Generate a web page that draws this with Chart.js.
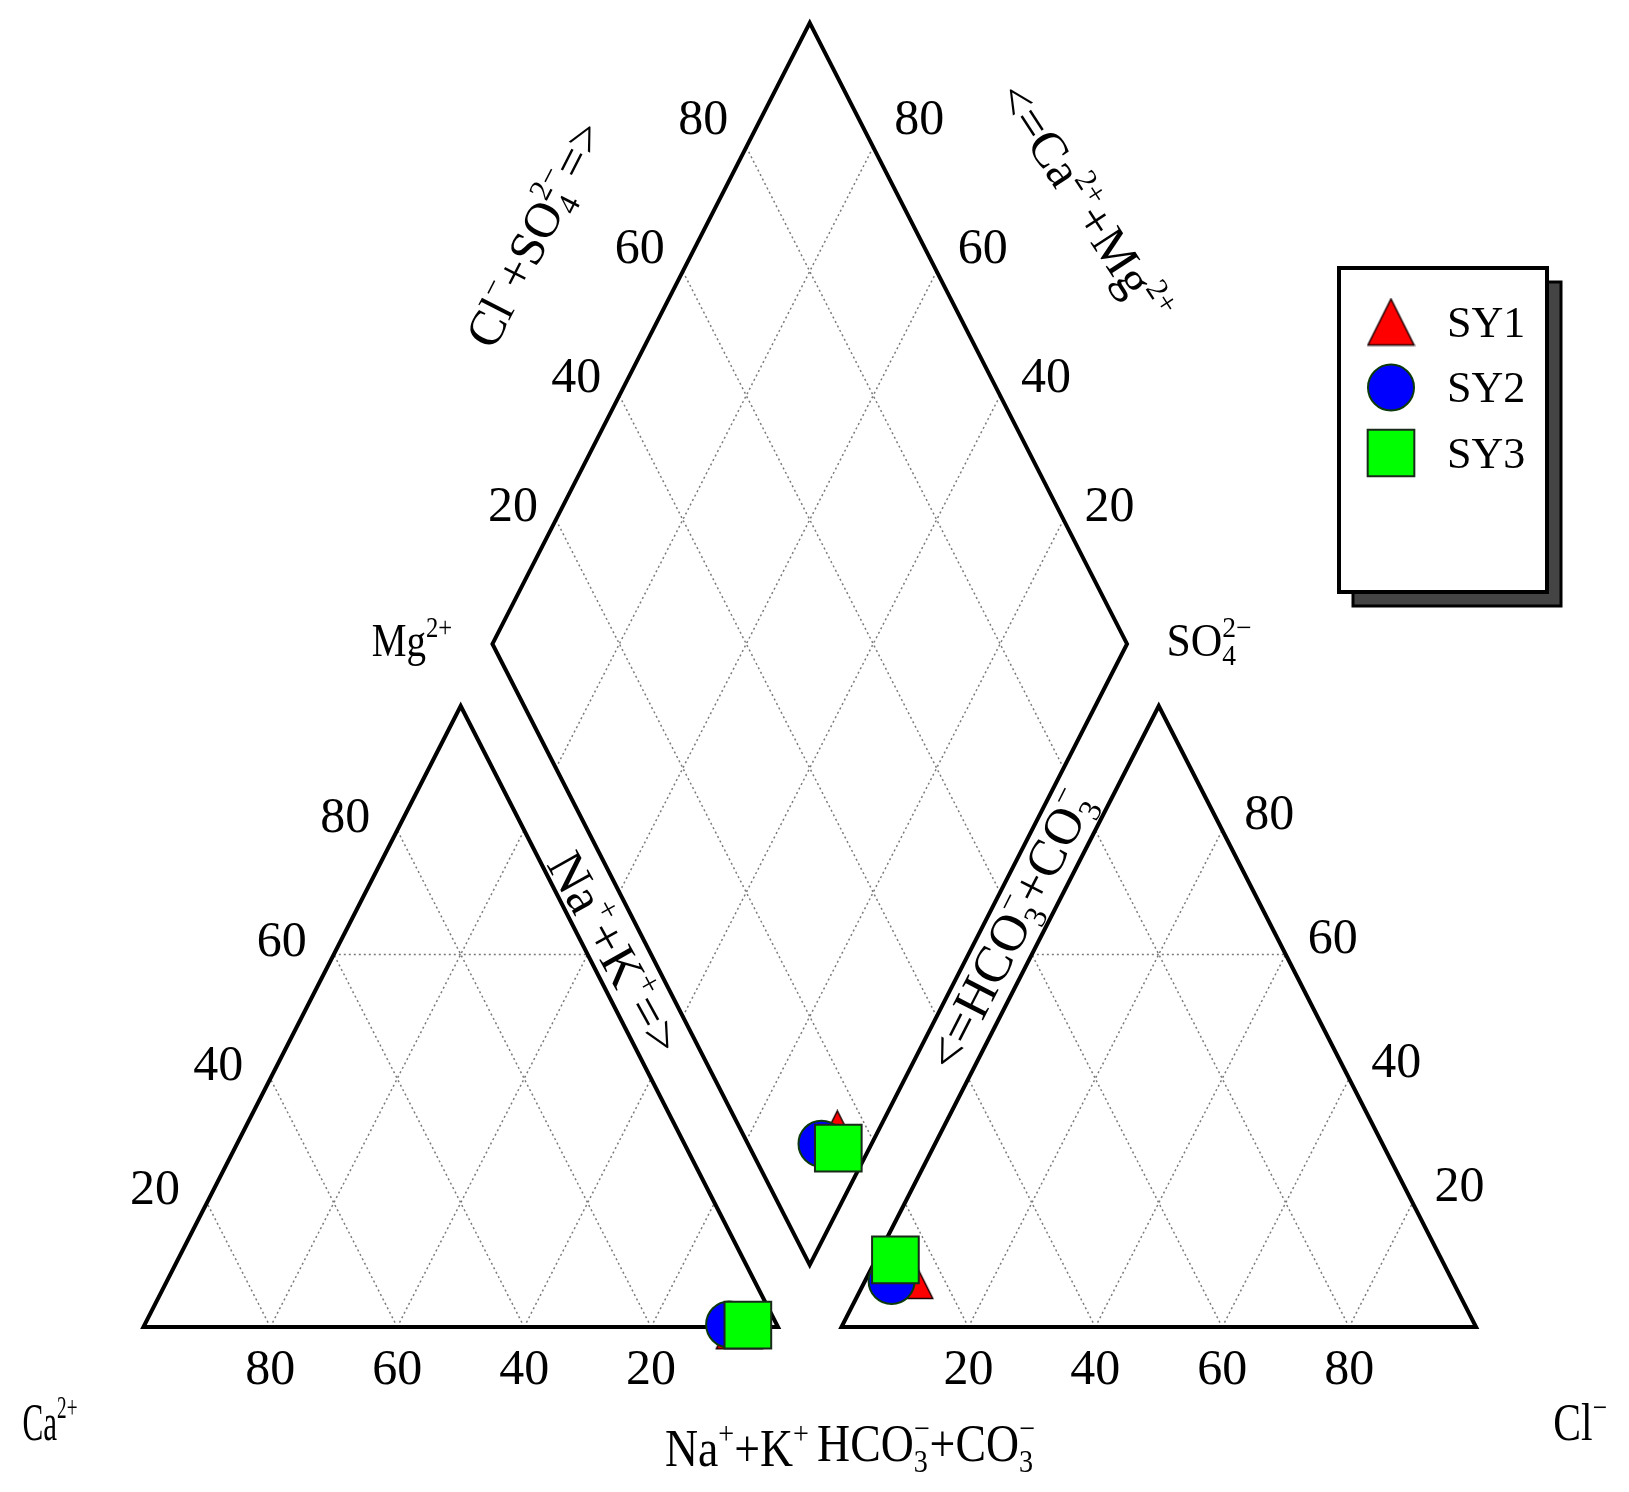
<!DOCTYPE html>
<html>
<head>
<meta charset="utf-8">
<title>Piper diagram</title>
<script src="https://cdn.jsdelivr.net/npm/chart.js@4.4.1/dist/chart.umd.min.js"></script>
<style>
  html, body { margin: 0; padding: 0; background: #fff; }
  #wrap { width: 1629px; height: 1492px; }
</style>
</head>
<body>
<div id="wrap"><canvas id="piper" width="1629" height="1492"></canvas></div>
<script>
// sample compositions in meq %
const samples = ['SY1', 'SY2', 'SY3'];
const ca   = [6.0, 7.5, 4.6];
const mg   = [0.2, 0.4, 0.3];
const naK  = [93.8, 92.1, 95.1];
const hco3 = [85.1, 88.4, 86.1];
const so4  = [8.3, 7.4, 10.8];
const cl   = [6.6, 4.2, 3.1];

// grid / tick values
const ticks = [20, 40, 60, 80];
const levelLines = [60];   // only this horizontal line is drawn in the triangles

const gap = 10;            // space between the two triangles (% of side)
const FONT = '"Liberation Serif", "Times New Roman", serif';

// ternary -> chart units (triangle side = 100, height = 100)
function cationXY(c, m, n) { return { x: n + m / 2, y: m }; }
function anionXY(h, s, c) { return { x: 100 + gap + c + s / 2, y: s }; }
function diamondXY(a, b) {   // a = Cl+SO4, b = Ca+Mg
    return { x: 100 + gap / 2 + (a - b) / 2, y: gap + a + b };
}
const BREAK = { x: null, y: null };

// grid lines
const gridLeft = [], gridRight = [], gridDiamond = [];
ticks.forEach(t => {
    gridLeft.push(cationXY(t, 0, 100 - t), cationXY(t, 100 - t, 0), BREAK);
    gridLeft.push(cationXY(100 - t, 0, t), cationXY(0, 100 - t, t), BREAK);
    gridRight.push(anionXY(t, 0, 100 - t), anionXY(t, 100 - t, 0), BREAK);
    gridRight.push(anionXY(100 - t, 0, t), anionXY(0, 100 - t, t), BREAK);
    gridDiamond.push(diamondXY(t, 0), diamondXY(t, 100), BREAK);
    gridDiamond.push(diamondXY(0, t), diamondXY(100, t), BREAK);
});
levelLines.forEach(t => {
    gridLeft.push(cationXY(100 - t, t, 0), cationXY(0, t, 100 - t), BREAK);
    gridRight.push(anionXY(100 - t, t, 0), anionXY(0, t, 100 - t), BREAK);
});

// outlines (first edge repeated so every corner gets a mitred join)
const outlineLeft = [cationXY(100, 0, 0), cationXY(0, 0, 100), cationXY(0, 100, 0),
                     cationXY(100, 0, 0), cationXY(0, 0, 100)];
const outlineRight = [anionXY(100, 0, 0), anionXY(0, 0, 100), anionXY(0, 100, 0),
                      anionXY(100, 0, 0), anionXY(0, 0, 100)];
const outlineDiamond = [diamondXY(0, 0), diamondXY(100, 0), diamondXY(100, 100),
                        diamondXY(0, 100), diamondXY(0, 0), diamondXY(100, 0)];

const gridStyle = {
    showLine: true, spanGaps: false, pointRadius: 0, pointHoverRadius: 0, fill: false,
    borderColor: '#7a7a7a', borderWidth: 1.5, borderDash: [2, 3], order: 20
};
const outlineStyle = {
    showLine: true, spanGaps: false, pointRadius: 0, pointHoverRadius: 0, fill: false,
    borderColor: '#000', borderWidth: 4, borderJoinStyle: 'miter', order: 10
};

// triangle marker centred on its bounding box
function triangleImage(w, h, fill, stroke, lw) {
    const c = document.createElement('canvas');
    c.width = Math.ceil(w + lw * 2);
    c.height = Math.ceil(h + lw * 2);
    const g = c.getContext('2d');
    g.beginPath();
    g.moveTo(c.width / 2, lw);
    g.lineTo(c.width - lw, c.height - lw);
    g.lineTo(lw, c.height - lw);
    g.closePath();
    g.fillStyle = fill;
    g.fill();
    g.lineWidth = lw;
    g.strokeStyle = stroke;
    g.lineJoin = 'miter';
    g.stroke();
    return c;
}

const markerStyle = [
    { pointStyle: triangleImage(46, 46, '#ff0000', '#1a0000', 1.5), pointRadius: 24, backgroundColor: '#ff0000', borderColor: '#1a0000', borderWidth: 1.5 },
    { pointStyle: 'circle', pointRadius: 23, backgroundColor: '#0000ff', borderColor: '#0b3a0b', borderWidth: 2 },
    { pointStyle: 'rect', pointRadius: 33, backgroundColor: '#00ff00', borderColor: '#1a2a1a', borderWidth: 2 }
];

const sampleSets = samples.map((name, i) => Object.assign({
    label: name,
    data: [cationXY(ca[i], mg[i], naK[i]),
           diamondXY(cl[i] + so4[i], ca[i] + mg[i]),
           anionXY(hco3[i], so4[i], cl[i])],
    showLine: false,
    pointHoverRadius: 0,
    order: samples.length - i
}, markerStyle[i]));

// rich text with super/subscripts: strings are normal text, objects {sup, sub}
function partsWidth(ctx, parts, size) {
    let w = 0;
    parts.forEach(p => {
        if (typeof p === 'string') {
            ctx.font = size + 'px ' + FONT;
            w += ctx.measureText(p).width;
        } else {
            ctx.font = Math.round(size * 0.62) + 'px ' + FONT;
            w += Math.max(p.sup ? ctx.measureText(p.sup).width : 0, p.sub ? ctx.measureText(p.sub).width : 0);
        }
    });
    return w;
}

function drawRich(ctx, parts, x, y, o) {
    o = o || {};
    const size = o.size || 50, sx = o.sx || 1, align = o.align || 'center';
    const w = partsWidth(ctx, parts, size);
    ctx.save();
    ctx.translate(x, y);
    if (o.angle) ctx.rotate(o.angle);
    ctx.scale(sx, 1);
    ctx.textAlign = 'left';
    ctx.textBaseline = 'alphabetic';
    let cx = align === 'center' ? -w / 2 : (align === 'right' ? -w : 0);
    const base = size * 0.33;
    parts.forEach(p => {
        if (typeof p === 'string') {
            ctx.font = size + 'px ' + FONT;
            ctx.fillText(p, cx, base);
            cx += ctx.measureText(p).width;
        } else {
            ctx.font = Math.round(size * 0.62) + 'px ' + FONT;
            let adv = 0;
            if (p.sup) { ctx.fillText(p.sup, cx, base - size * 0.42); adv = ctx.measureText(p.sup).width; }
            if (p.sub) { ctx.fillText(p.sub, cx, base + size * 0.2); adv = Math.max(adv, ctx.measureText(p.sub).width); }
            cx += adv;
        }
    });
    ctx.restore();
}

function drawMarker(ctx, st, x, y) {
    const r = st.pointRadius;
    ctx.save();
    if (typeof st.pointStyle === 'object') {
        ctx.drawImage(st.pointStyle, x - st.pointStyle.width / 2, y - st.pointStyle.height / 2);
        ctx.restore();
        return;
    }
    ctx.fillStyle = st.backgroundColor;
    ctx.strokeStyle = st.borderColor;
    ctx.lineWidth = st.borderWidth;
    ctx.beginPath();
    if (st.pointStyle === 'circle') {
        ctx.arc(x, y, r, 0, Math.PI * 2);
    } else {
        const h = r * Math.SQRT1_2;
        ctx.rect(x - h, y - h, 2 * h, 2 * h);
    }
    ctx.fill();
    ctx.stroke();
    ctx.restore();
}

const labelsPlugin = {
    id: 'piperLabels',
    afterDatasetsDraw(chart) {
        const ctx = chart.ctx, xs = chart.scales.x, ys = chart.scales.y;
        const px = p => ({ x: xs.getPixelForValue(p.x), y: ys.getPixelForValue(p.y) });
        ctx.save();
        ctx.fillStyle = '#000';

        ticks.forEach(t => {
            const s = String(t);
            let p = px(cationXY(t, 0, 100 - t));
            drawRich(ctx, [s], p.x, p.y + 40, { size: 50 });
            p = px(cationXY(100 - t, t, 0));
            drawRich(ctx, [s], p.x - 27, p.y - 15, { size: 50, align: 'right' });
            p = px(anionXY(100 - t, 0, t));
            drawRich(ctx, [s], p.x, p.y + 40, { size: 50 });
            p = px(anionXY(0, t, 100 - t));
            drawRich(ctx, [s], p.x + 22, p.y - 18, { size: 50, align: 'left' });
            const dy = -15 - 0.25 * (t - 20);
            p = px(diamondXY(t, 100));
            drawRich(ctx, [s], p.x - 43, p.y + dy, { size: 50 });
            p = px(diamondXY(100, t));
            drawRich(ctx, [s], p.x + 46, p.y + dy, { size: 50 });
        });

        // side directions of the diamond
        const B = px(diamondXY(0, 0)), R = px(diamondXY(100, 0)),
              T = px(diamondXY(100, 100)), L = px(diamondXY(0, 100));
        const aLT = Math.atan2(T.y - L.y, T.x - L.x);
        const aTR = Math.atan2(R.y - T.y, R.x - T.x);
        const aLB = Math.atan2(B.y - L.y, B.x - L.x);
        const aBR = Math.atan2(R.y - B.y, R.x - B.x);
        const tilt = Math.PI / 180;

        drawRich(ctx, ['Cl', { sup: '\u2212' }, '+SO', { sub: '4', sup: '2\u2212' }, '=>'],
            535, 234, { size: 50, angle: aLT });
        drawRich(ctx, ['<=Ca', { sup: '2+' }, '+Mg', { sup: '2+' }],
            1084, 203, { size: 50, angle: aTR - 6 * tilt });
        drawRich(ctx, ['Na', { sup: '+' }, '+K', { sup: '+' }, '=>'],
            615, 953, { size: 52, angle: aLB - 2 * tilt });
        drawRich(ctx, ['<=HCO', { sub: '3', sup: '\u2212' }, '+CO', { sub: '3', sup: '\u2212' }],
            1010, 930, { size: 52, angle: aBR });

        // corner labels
        drawRich(ctx, ['Mg', { sup: '2+' }], 412, 641, { size: 46, sx: 0.85 });
        drawRich(ctx, ['SO', { sub: '4', sup: '2\u2212' }], 1209, 641, { size: 46, sx: 0.95 });
        drawRich(ctx, ['Ca', { sup: '2+' }], 50, 1423, { size: 52, sx: 0.6 });
        drawRich(ctx, ['Cl', { sup: '\u2212' }], 1580, 1423, { size: 52, sx: 0.8 });
        drawRich(ctx, ['Na', { sup: '+' }, '+K', { sup: '+' }], 737, 1449, { size: 52, sx: 0.88 });
        drawRich(ctx, ['HCO', { sub: '3', sup: '\u2212' }, '+CO', { sub: '3', sup: '\u2212' }], 926, 1444, { size: 52, sx: 0.88 });
        ctx.restore();
    },
    afterDraw(chart) {
        // legend box with drop shadow
        const ctx = chart.ctx;
        const bx = 1339, by = 268, bw = 208, bh = 324, sh = 14;
        ctx.save();
        ctx.fillStyle = '#444';
        ctx.strokeStyle = '#000';
        ctx.lineWidth = 3;
        ctx.fillRect(bx + sh, by + sh, bw, bh);
        ctx.strokeRect(bx + sh, by + sh, bw, bh);
        ctx.fillStyle = '#fff';
        ctx.lineWidth = 4;
        ctx.fillRect(bx, by, bw, bh);
        ctx.strokeRect(bx, by, bw, bh);
        samples.forEach((name, i) => {
            const yy = by + 54 + i * 65.5;
            drawMarker(ctx, markerStyle[i], bx + 52, yy);
            ctx.fillStyle = '#000';
            drawRich(ctx, [name], bx + 108, yy, { size: 44, align: 'left' });
        });
        ctx.restore();
    }
};

const chart = new Chart(document.getElementById('piper'), {
    type: 'scatter',
    data: {
        datasets: [
            Object.assign({ data: gridLeft }, gridStyle),
            Object.assign({ data: gridRight }, gridStyle),
            Object.assign({ data: gridDiamond }, gridStyle),
            Object.assign({ data: outlineLeft }, outlineStyle),
            Object.assign({ data: outlineRight }, outlineStyle),
            Object.assign({ data: outlineDiamond }, outlineStyle)
        ].concat(sampleSets)
    },
    options: {
        responsive: false,
        animation: false,
        events: [],
        devicePixelRatio: 1,
        layout: { padding: 0, autoPadding: false },
        plugins: { legend: { display: false }, tooltip: { enabled: false } },
        scales: {
            x: { type: 'linear', display: false, min: -22.6, max: 234.1 },
            y: { type: 'linear', display: false, min: -26.57, max: 213.69 }
        }
    },
    plugins: [labelsPlugin]
});
</script>
</body>
</html>
